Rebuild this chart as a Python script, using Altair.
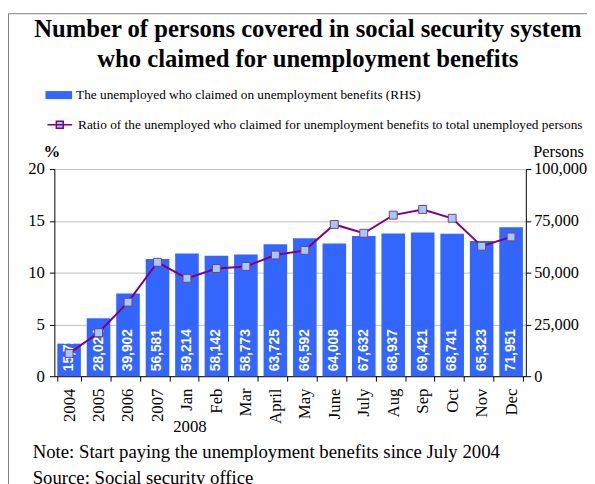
import altair as alt
import pandas as pd

categories = ["2004", "2005", "2006", "2007", "Jan", "Feb", "Mar", "April",
              "May", "June", "July", "Aug", "Sep", "Oct", "Nov", "Dec"]
claimants = [15725, 28024, 39902, 56581, 59214, 58142, 58773, 63725,
             66592, 64008, 67632, 68937, 69421, 68741, 65323, 71951]
ratio = [2.2, 4.2, 7.15, 11.0, 9.45, 10.4, 10.6, 11.7,
         12.15, 14.65, 13.8, 15.55, 16.1, 15.25, 12.55, 13.45]
bar_label = "The  unemployed who claimed on unemployment benefits (RHS)"
line_label = "Ratio of the unemployed who claimed for unemployment benefits to total unemployed persons"
title_lines = ["Number of persons covered in social security system",
               "who claimed for unemployment benefits"]
notes = ["Note: Start paying the unemployment benefits since July 2004",
         "Source: Social security office"]
left_ticks = [0, 5, 10, 15, 20]
right_ticks = [0, 25000, 50000, 75000, 100000]
year_label = "2008"

df = pd.DataFrame({
    "cat": categories,
    "claimants": claimants,
    "ratio": ratio,
    "zero": [0] * len(categories),
    "bar_series": [bar_label] * len(categories),
    "line_series": [line_label] * len(categories),
    "lab": [f"{v:,}" for v in claimants],
})

SERIF = "Liberation Serif"
SANS = "Liberation Sans"
BLUE = "#3366FF"
PURPLE = "#800080"

x_enc = alt.X(
    "cat:N", sort=categories,
    scale=alt.Scale(paddingInner=0.2, paddingOuter=0.1),
    axis=alt.Axis(
        title=year_label, titleX=137, titleY=56, titleAngle=0,
        titleFont=SERIF, titleFontSize=17, titleFontWeight="normal",
        titleAlign="center", titleBaseline="alphabetic", titleColor="black",
        labelAngle=270, labelAlign="right", labelBaseline="middle",
        labelFont=SERIF, labelFontSize=17, labelColor="black", labelPadding=7,
        tickBand="extent", tickSize=5, tickColor="black", domainColor="black",
        grid=False),
)

axisR = alt.Axis(
    orient="right", values=right_ticks, labelExpr="format(datum.value, ',')",
    title="Persons",
    titleAngle=0, titleX=7, titleY=-13, titleAlign="left",
    titleBaseline="alphabetic", titleFont=SERIF, titleFontSize=16.5,
    titleFontWeight="normal", titleColor="black",
    labelFont=SERIF, labelFontSize=16.5, labelColor="black", labelPadding=3,
    tickColor="black", tickSize=5, domainColor="black", grid=False)
yR = dict(scale=alt.Scale(domain=[0, 100000], nice=False), axis=axisR, title="Persons")

axisL = alt.Axis(
    orient="left", values=left_ticks, title="%",
    titleAngle=0, titleX=-3, titleY=-13, titleAlign="center",
    titleBaseline="alphabetic", titleFont=SERIF, titleFontSize=17,
    titleFontWeight="bold", titleColor="black",
    labelFont=SERIF, labelFontSize=17, labelColor="black", labelPadding=5,
    tickColor="black", tickSize=5, domainColor="black",
    grid=True, gridColor="#BFBFBF", gridWidth=1)
yL = dict(scale=alt.Scale(domain=[0, 20], nice=False), axis=axisL, title="%")

bars = alt.Chart(df).mark_bar().encode(
    x=x_enc,
    y=alt.Y("claimants:Q", **yR),
    fill=alt.Fill("bar_series:N",
                  scale=alt.Scale(domain=[bar_label], range=[BLUE]),
                  legend=alt.Legend(
                      title=None, orient="none", legendX=-9, legendY=-88.5,
                      symbolType="M-1,-0.3H1V0.3H-1Z", symbolSize=729,
                      symbolStrokeWidth=0, symbolOpacity=1,
                      labelFont=SERIF, labelFontSize=13.5, labelColor="black",
                      labelLimit=700, labelOffset=4, padding=0)),
)

labels = alt.Chart(df).mark_text(
    angle=270, align="left", baseline="middle", dx=5, color="white",
    font=SANS, fontWeight="bold", fontSize=14,
).encode(x=x_enc, y=alt.Y("zero:Q", **yR), text="lab:N")

line = alt.Chart(df).mark_line(strokeWidth=2).encode(
    x=x_enc,
    y=alt.Y("ratio:Q", **yL),
    stroke=alt.Stroke("line_series:N",
                      scale=alt.Scale(domain=[line_label], range=[PURPLE]),
                      legend=alt.Legend(
                          title=None, orient="none", legendX=-9, legendY=-59.5,
                          symbolType="M-0.93,0H0.93M-0.26,-0.26H0.26V0.26H-0.26Z",
                          symbolSize=729, symbolStrokeWidth=1.5,
                          symbolFillColor="#99CCFF",
                          labelFont=SERIF, labelFontSize=13.5, labelColor="black",
                          labelLimit=700, labelOffset=4, padding=0)),
)

points = alt.Chart(df).mark_square(
    size=64, filled=True, fill="#99CCFF", stroke="#993366",
    strokeWidth=1, opacity=1,
).encode(x=x_enc, y=alt.Y("ratio:Q", **yL))

frame = alt.Chart(pd.DataFrame({"f": [0]})).mark_rect(
    fillOpacity=0, stroke="#7F7F7F", strokeWidth=1,
).encode(x=alt.value(-46.5), x2=alt.value(600), y=alt.value(-157.5), y2=alt.value(340))

title_text = alt.Chart(pd.DataFrame({"t": ["\n".join(title_lines)]})).mark_text(
    align="center", baseline="alphabetic", font=SERIF, fontSize=25,
    fontWeight="bold", color="black", lineBreak="\n", lineHeight=30.5,
).encode(x=alt.value(257), y=alt.value(-133.5), text="t:N")

note_text = alt.Chart(pd.DataFrame({"t": ["\n".join(notes)]})).mark_text(
    align="left", baseline="alphabetic", font=SERIF, fontSize=19,
    color="black", lineBreak="\n", lineHeight=26,
).encode(x=alt.value(-22), y=alt.value(293), text="t:N")

chart = alt.layer(
    frame,
    title_text,
    alt.layer(bars, labels),
    alt.layer(line, points),
    note_text,
).resolve_scale(y="independent").properties(
    width=478, height=210,
    padding={"left": 47, "top": 160, "right": 62, "bottom": 106},
    autosize=alt.AutoSizeParams(type="none"),
).configure_view(stroke=None)

chart.save("out.html", embed_options={"renderer": "svg", "actions": False})
